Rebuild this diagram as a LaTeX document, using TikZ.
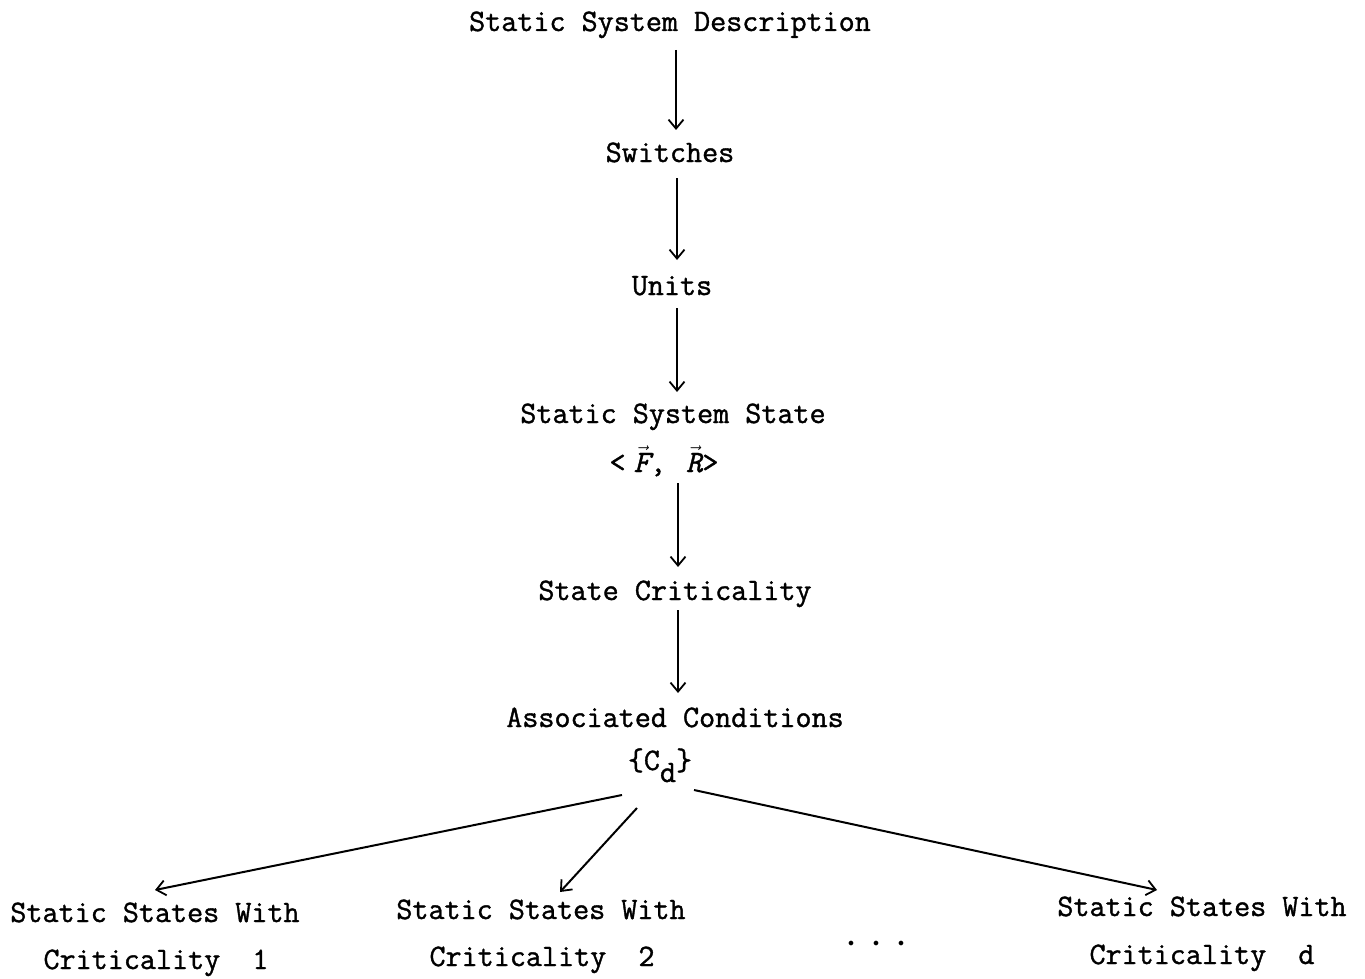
\documentclass[tikz,border=0pt]{standalone}
\usepackage{amsmath}
\usepackage{fontspec}
\usetikzlibrary{arrows.meta}
% typewriter face, slightly heavier strokes
\newfontfamily\tw{Latin Modern Mono}[RawFeature={embolden=1.2}]
\newcommand{\tvec}[1]{$\vec{\text{\tw\itshape #1}}$}
\begin{document}
\begin{tikzpicture}[x=1pt,y=-1pt,
  lbl/.style={inner sep=0pt,anchor=base,font=\tw\fontsize{31.2}{36}\selectfont},
  arr/.style={line width=2pt,-{Straight Barb[length=9pt,width=15pt,line width=1.8pt]}}]
\useasboundingbox (0,0) rectangle (1365,979);
% main chain
\node[lbl] (top)   at (670,31)  {Static System Description};
\node[lbl] (sw)    at (670,162) {Switches};
\node[lbl] (units) at (672,295) {Units};
\node[lbl] (sss)   at (673,423) {Static System State};
\node[lbl] (fr)    at (664,472) {<\hspace{8pt}\tvec{F},\hspace{20pt}\tvec{R}>};
\node[lbl] (crit)  at (675,600) {State Criticality};
\node[lbl] (assoc) at (675,727) {Associated Conditions};
\node[lbl] (cd)    at (660,770) {\{C\raisebox{-12pt}{d}\}};
% result classes
\node[lbl] (l1) at (155,922)  {Static States With};
\node[lbl] (l2) at (156,969)  {Criticality\ \ 1};
\node[lbl] (m1) at (541,919)  {Static States With};
\node[lbl] (m2) at (542,966)  {Criticality\ \ 2};
\node[lbl] (r1) at (1202,916) {Static States With};
\node[lbl] (r2) at (1202,964) {Criticality\ \ d};
\node[lbl] (dots) at (876,946) {\fontsize{13}{13}\selectfont$\bullet$\hspace{19pt}$\bullet$\hspace{19pt}$\bullet$};
% connectors
\draw[arr] ([xshift=6pt,yshift=-19pt]top.base)  -- ([xshift=6pt,yshift=32pt]sw.base);
\draw[arr] ([xshift=7pt,yshift=-16pt]sw.base)   -- ([xshift=5pt,yshift=35pt]units.base);
\draw[arr] ([xshift=5pt,yshift=-13pt]units.base) -- ([xshift=4pt,yshift=31pt]sss.base);
\draw[arr] ([xshift=14pt,yshift=-11pt]fr.base)  -- ([xshift=3pt,yshift=33pt]crit.base);
\draw[arr] ([xshift=3pt,yshift=-10pt]crit.base) -- ([xshift=3pt,yshift=34pt]assoc.base);
\draw[arr] ([xshift=-38pt,yshift=-25pt]cd.base) -- ([xshift=0pt,yshift=32pt]l1.base);
\draw[arr] ([xshift=-23pt,yshift=-38pt]cd.base) -- ([xshift=19pt,yshift=27pt]m1.base);
\draw[arr] ([xshift=34pt,yshift=-20pt]cd.base)  -- ([xshift=-45pt,yshift=26pt]r1.base);
\end{tikzpicture}
\end{document}
